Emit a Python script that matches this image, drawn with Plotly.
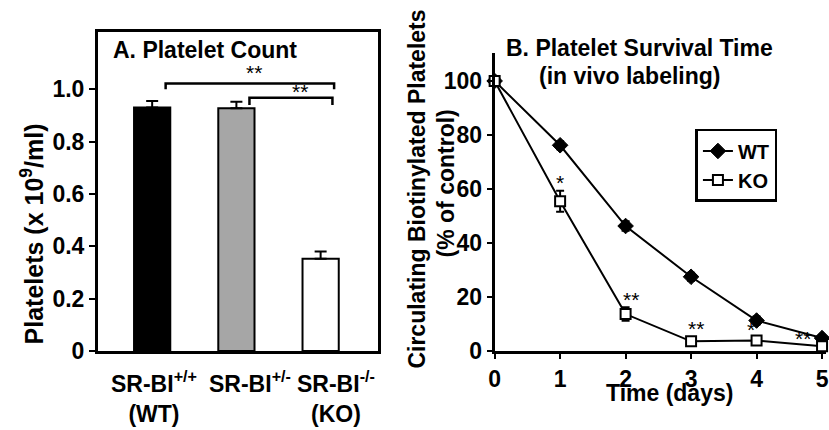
import plotly.graph_objects as go

# ---------------- data ----------------
genotypes = ["SR-BI<sup>+/+</sup><br>(WT)", "SR-BI<sup>+/-</sup>", "SR-BI<sup>-/-</sup><br>(KO)"]
platelet_count = [0.93, 0.927, 0.353]
platelet_err = [0.025, 0.025, 0.027]
bar_colors = ["#000000", "#a6a6a6", "#ffffff"]

days = [0, 1, 2, 3, 4, 5]
wt_survival = [100, 76.2, 46.3, 27.5, 11.3, 4.8]
wt_err = [0, 1.5, 1.8, 1.5, 1.5, 1.0]
ko_survival = [100, 55.5, 13.7, 3.6, 3.9, 1.8]
ko_err = [0, 3.9, 2.5, 1.0, 0.8, 0.6]

a_yticks = [0, 0.2, 0.4, 0.6, 0.8, 1.0]
a_yticktext = ["0", "0.2", "0.4", "0.6", "0.8", "1.0"]
b_yticks = [0, 20, 40, 60, 80, 100]
b_xticks = [0, 1, 2, 3, 4, 5]

# significance marks panel B: (x, y, text)
b_stars_x = [1.0, 2.09, 3.07, 3.91, 4.71]
b_stars_y = [62.3, 19.0, 8.4, 8.0, 4.5]
b_stars_t = ["*", "**", "**", "*", "**"]

FONT = "Liberation Sans, Arial, sans-serif"
W, H = 829, 430

def px_x(p):
    return p / W

def px_y(p):
    return (H - p) / H

fig = go.Figure()

# ---------------- Panel A ----------------
fig.add_trace(go.Bar(
    x=list(range(len(platelet_count))), y=platelet_count,
    width=0.43,
    marker=dict(color=bar_colors, line=dict(color="black", width=2)),
    error_y=dict(type="data", symmetric=False, array=platelet_err,
                 arrayminus=[0] * len(platelet_err), color="black",
                 thickness=2, width=6),
    xaxis="x", yaxis="y", showlegend=False,
))

# ---------------- Panel B ----------------
fig.add_trace(go.Scatter(
    x=days, y=wt_survival, name="WT", mode="lines+markers",
    line=dict(color="black", width=2),
    marker=dict(symbol="diamond", size=12, color="black",
                line=dict(color="black", width=1)),
    error_y=dict(type="data", array=wt_err, color="black", thickness=2, width=4),
    xaxis="x2", yaxis="y2", cliponaxis=False,
))
fig.add_trace(go.Scatter(
    x=days, y=ko_survival, name="KO", mode="lines+markers",
    line=dict(color="black", width=2),
    marker=dict(symbol="square", size=10, color="white",
                line=dict(color="black", width=2)),
    error_y=dict(type="data", array=ko_err, color="black", thickness=2, width=4),
    xaxis="x2", yaxis="y2", cliponaxis=False,
))

bold = dict(family=FONT, size=23, color="black", weight="bold")

a_bottom, a_top = 362, 32.7
b_top = 55
b_scale = (362 - 83.5) / 100.0

fig.update_layout(
    width=W, height=H,
    margin=dict(l=0, r=0, t=0, b=0),
    paper_bgcolor="white", plot_bgcolor="white",
    font=dict(family=FONT, color="black"),
    xaxis=dict(
        domain=[px_x(93), px_x(376)],
        range=[-0.643, 2.68],
        showticklabels=False, ticks="",
        showline=True, linecolor="black", linewidth=3, mirror=True,
        showgrid=False, zeroline=False, fixedrange=True,
    ),
    yaxis=dict(
        domain=[px_y(a_bottom), px_y(a_top)],
        range=[0, (a_bottom - a_top) / 270.0],
        tickvals=a_yticks, ticktext=a_yticktext,
        ticks="outside", ticklen=6, tickwidth=2, tickcolor="black",
        tickfont=bold,
        showline=True, linecolor="black", linewidth=3, mirror=True,
        showgrid=False, zeroline=False, anchor="x",
    ),
    xaxis2=dict(
        domain=[px_x(494), 1.0],
        range=[0, (W - 494) / 66.2],
        tickvals=b_xticks,
        ticks="outside", ticklen=5, tickwidth=2, tickcolor="black",
        tickfont=bold, ticklabeloverflow="allow",
        showline=True, linecolor="black", linewidth=3,
        showgrid=False, zeroline=False, anchor="y2",
    ),
    yaxis2=dict(
        domain=[px_y(362), px_y(b_top)],
        range=[0, (362 - b_top) / b_scale],
        tickvals=b_yticks,
        ticks="outside", ticklen=5, tickwidth=2, tickcolor="black",
        tickfont=bold,
        showline=True, linecolor="black", linewidth=3,
        showgrid=False, zeroline=False, anchor="x2",
    ),
    legend=dict(
        x=px_x(697), y=px_y(133), xanchor="left", yanchor="top",
        bordercolor="black", borderwidth=2.5, bgcolor="white",
        font=dict(family=FONT, size=20, color="black", weight="bold"),
        itemwidth=30, tracegroupgap=0,
    ),
)

# brackets panel A
fig.add_shape(type="path", xref="x", yref="y",
              path="M 0.16,1.0 L 0.16,1.022 L 2.16,1.022 L 2.16,1.0",
              line=dict(color="black", width=2.5))
fig.add_shape(type="path", xref="x", yref="y",
              path="M 1.155,0.94 L 1.155,0.967 L 2.14,0.967 L 2.14,0.94",
              line=dict(color="black", width=2.5))

ann = []
star_font = dict(family=FONT, size=21, color="black")
ann.append(dict(x=1.21, y=1.065, xref="x", yref="y", text="**", showarrow=False,
                font=star_font, yanchor="middle"))
ann.append(dict(x=1.755, y=0.99, xref="x", yref="y", text="**", showarrow=False,
                font=star_font, yanchor="middle"))
for sx, sy, st in zip(b_stars_x, b_stars_y, b_stars_t):
    ann.append(dict(x=sx, y=sy, xref="x2", yref="y2", text=st, showarrow=False,
                    font=star_font, yanchor="middle"))

# category labels panel A (tick labels)
label_shift = [2, 14, 15]
for i, (lab, sh) in enumerate(zip(genotypes, label_shift)):
    ann.append(dict(x=i, y=0, xref="x", yref="y", text=lab, showarrow=False,
                    xanchor="center", yanchor="top", yshift=-14, xshift=sh,
                    font=dict(family=FONT, size=23, color="black", weight="bold"),
                    align="center"))

title_font = dict(family=FONT, size=23, color="black", weight="bold")
ann.append(dict(x=px_x(106), y=px_y(52), xref="paper", yref="paper",
                text="A. Platelet Count", showarrow=False, xanchor="left",
                yanchor="middle", font=title_font))
ann.append(dict(x=px_x(503), y=px_y(50), xref="paper", yref="paper",
                text="B. Platelet Survival Time", showarrow=False, xanchor="left",
                yanchor="middle", font=title_font))
ann.append(dict(x=px_x(630), y=px_y(78), xref="paper", yref="paper",
                text="(in vivo labeling)", showarrow=False, xanchor="center",
                yanchor="middle", font=title_font))
ann.append(dict(x=px_x(26), y=px_y(241), xref="paper", yref="paper",
                text="Platelets (x 10<sup>9</sup>/ml)", showarrow=False,
                textangle=-90, xanchor="center", yanchor="middle",
                font=dict(family=FONT, size=25, color="black", weight="bold")))
ann.append(dict(x=px_x(416), y=px_y(195), xref="paper", yref="paper",
                text="Circulating Biotinylated Platelets", showarrow=False,
                textangle=-90, xanchor="center", yanchor="middle", font=title_font))
ann.append(dict(x=px_x(445), y=px_y(189), xref="paper", yref="paper",
                text="(% of control)", showarrow=False,
                textangle=-90, xanchor="center", yanchor="middle", font=title_font))
ann.append(dict(x=px_x(671), y=px_y(405), xref="paper", yref="paper",
                text="Time (days)", showarrow=False, xanchor="center",
                yanchor="middle", font=title_font))

fig.update_layout(annotations=ann)
fig.write_html("out.html",
               config={"displayModeBar": False},
               post_script="document.body.style.margin='0';document.body.style.padding='0';")
